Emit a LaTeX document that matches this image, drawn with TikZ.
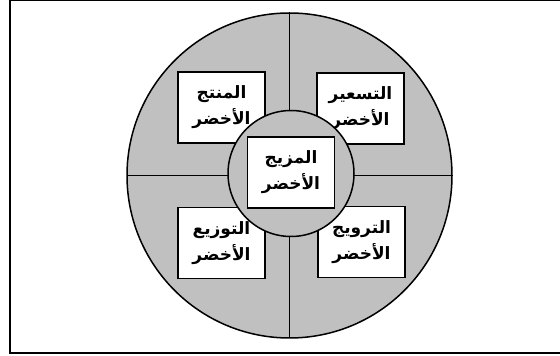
\documentclass[tikz,border=0pt]{standalone}
\usepackage{fontspec}
\newfontfamily\arabicfont[Script=Arabic]{DejaVu Sans}
\TeXXeTstate=1
\definecolor{discgray}{HTML}{C0C0C0}
\tikzset{
  mixbox/.style={
    draw=black,
    fill=white,
    line width=1.4pt,
    minimum width=87pt,
    minimum height=71pt,
    inner sep=2pt,
    align=center,
    font=\arabicfont\bfseries\fontsize{17}{26}\selectfont
  },
  discline/.style={draw=black,line width=1.3pt},
  disc/.style={draw=black,fill=discgray,line width=1.5pt}
}

\begin{document}
\begin{tikzpicture}[x=1pt,y=1pt]
  \useasboundingbox (0,0) rectangle (560,356);
  \draw[line width=2pt] (10,3) rectangle (600,355.5);
  \coordinate (hub) at (289.5,180.5);
  % outer wheel and its quarters
  \path[disc] (hub) circle[radius=162.5];
  \coordinate (top) at ([shift={(0,162.5)}]hub);
  \coordinate (bottom) at ([shift={(0,-162.5)}]hub);
  \coordinate (left) at ([shift={(-162.5,0)}]hub);
  \coordinate (right) at ([shift={(162.5,0)}]hub);
  \draw[discline] (top) -- (bottom);
  \draw[discline] (left) -- (right);
  \node[mixbox] (product) at ([shift={(-68,68)}]hub) {\beginR المنتج\endR\\\beginR الأخضر\endR};
  \node[mixbox] (pricing) at ([shift={(71,67)}]hub) {\beginR التسعير\endR\\\beginR الأخضر\endR};
  \node[mixbox] (place) at ([shift={(-68,-67.5)}]hub) {\beginR التوزيع\endR\\\beginR الأخضر\endR};
  \node[mixbox] (promotion) at ([shift={(72,-66.5)}]hub) {\beginR الترويج\endR\\\beginR الأخضر\endR};
  % inner hub
  \path[disc] ([shift={(1.5,2)}]hub) circle[radius=63];
  \node[mixbox] (mix) at ([shift={(1.5,3)}]hub) {\beginR المزيج\endR\\\beginR الأخضر\endR};
\end{tikzpicture}
\end{document}
